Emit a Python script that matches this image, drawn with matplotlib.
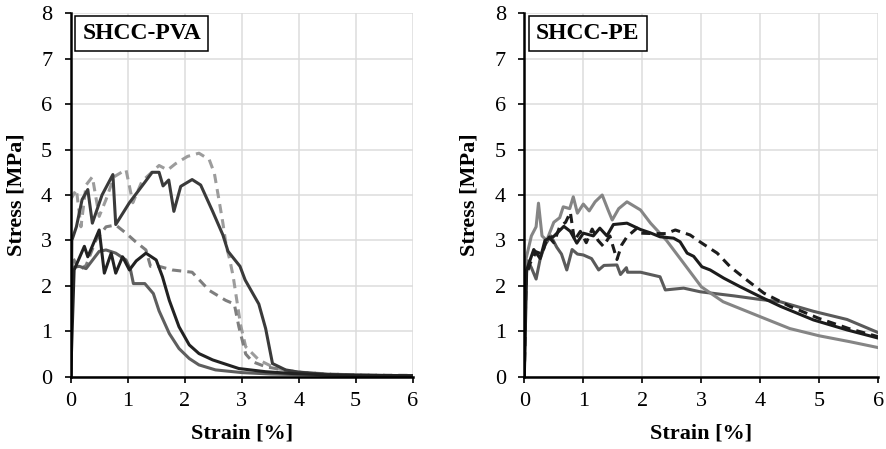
import matplotlib
matplotlib.use("Agg")
import matplotlib.pyplot as plt

plt.rcParams['font.family'] = ['Liberation Serif', 'DejaVu Serif']
plt.rcParams['font.size'] = 16

# ---- SHCC-PVA curves (strain %, stress MPa) ----
pva_a_x = [0, 0.02, 0.1, 0.2, 0.3, 0.38, 0.55, 0.74, 0.79, 1.03, 1.3, 1.43, 1.55, 1.62, 1.72, 1.81,
           1.93, 2.13, 2.28, 2.49, 2.67, 2.76, 2.97, 3.06, 3.3, 3.42, 3.54, 3.77, 4.0, 4.5, 5.0, 6.0]
pva_a_y = [0, 3.0, 3.3, 3.9, 4.12, 3.38, 4.0, 4.45, 3.35, 3.83, 4.28, 4.5, 4.5, 4.2, 4.33, 3.64,
           4.19, 4.34, 4.22, 3.64, 3.12, 2.76, 2.43, 2.13, 1.6, 1.06, 0.29, 0.15, 0.1, 0.05, 0.03, 0.02]

pva_b_x = [0, 0.1, 0.18, 0.27, 0.38, 0.5, 0.62, 0.76, 0.97, 1.09, 1.25, 1.55, 1.7, 1.84, 2.05, 2.25,
           2.43, 2.52, 2.6, 2.67, 2.73, 2.79, 2.85, 2.98, 3.07, 3.3, 3.6, 4.0, 4.5, 5.0, 6.0]
pva_b_y = [3.9, 4.12, 3.3, 4.22, 4.4, 3.53, 3.9, 4.4, 4.56, 3.83, 4.3, 4.65, 4.55, 4.69, 4.85, 4.92,
           4.78, 4.48, 3.9, 3.38, 2.87, 2.58, 2.21, 1.14, 0.66, 0.37, 0.18, 0.1, 0.06, 0.04, 0.03]

pva_c_x = [0, 0.03, 0.15, 0.27, 0.44, 0.62, 0.79, 0.97, 1.14, 1.32, 1.4, 1.55, 1.78, 2.13, 2.43,
           2.72, 2.87, 2.95, 3.07, 3.19, 3.42, 3.9, 4.5, 5.0, 6.0]
pva_c_y = [0, 2.64, 2.35, 2.45, 3.0, 3.3, 3.34, 3.16, 2.97, 2.79, 2.43, 2.43, 2.35, 2.3, 1.9,
           1.68, 1.6, 1.1, 0.5, 0.33, 0.22, 0.11, 0.06, 0.04, 0.02]

pva_d_x = [0, 0.06, 0.24, 0.3, 0.5, 0.59, 0.71, 0.79, 0.91, 1.03, 1.15, 1.32, 1.5, 1.61, 1.73,
           1.9, 2.08, 2.25, 2.49, 2.95, 3.42, 3.89, 4.5, 6.0]
pva_d_y = [0, 2.35, 2.87, 2.64, 3.23, 2.28, 2.72, 2.28, 2.64, 2.35, 2.55, 2.72, 2.57, 2.2, 1.68,
           1.1, 0.7, 0.51, 0.37, 0.18, 0.11, 0.07, 0.04, 0.02]

pva_e_x = [0, 0.02, 0.15, 0.27, 0.5, 0.62, 0.79, 0.97, 1.05, 1.1, 1.3, 1.45, 1.55, 1.73, 1.9,
           2.08, 2.25, 2.54, 3.01, 3.5, 4.5, 6.0]
pva_e_y = [0, 2.4, 2.43, 2.38, 2.76, 2.79, 2.72, 2.57, 2.35, 2.05, 2.05, 1.83, 1.45, 0.95, 0.62,
           0.4, 0.26, 0.15, 0.09, 0.06, 0.03, 0.02]

# ---- SHCC-PE curves ----
pe_a_x = [0, 0.03, 0.12, 0.2, 0.24, 0.3, 0.38, 0.5, 0.6, 0.66, 0.77, 0.83, 0.9, 1.0, 1.1, 1.2,
          1.32, 1.42, 1.49, 1.6, 1.74, 1.97, 2.14, 2.41, 2.7, 3.0, 3.37, 4.0, 4.5, 5.0, 5.52, 6.0]
pe_a_y = [0, 2.6, 3.1, 3.3, 3.82, 3.1, 3.0, 3.4, 3.5, 3.74, 3.7, 3.96, 3.6, 3.8, 3.65, 3.85,
          4.0, 3.67, 3.45, 3.7, 3.85, 3.67, 3.38, 3.0, 2.5, 1.98, 1.65, 1.32, 1.06, 0.9, 0.77, 0.64]

pe_b_x = [0, 0.02, 0.06, 0.12, 0.2, 0.27, 0.35, 0.45, 0.55, 0.63, 0.72, 0.81, 0.9, 1.0, 1.14,
          1.26, 1.35, 1.57, 1.63, 1.73, 1.75, 1.97, 2.3, 2.39, 2.7, 2.98, 3.55, 4.0, 4.34, 4.9,
          5.47, 6.0]
pe_b_y = [0, 2.1, 2.55, 2.4, 2.15, 2.6, 2.9, 3.1, 2.85, 2.7, 2.35, 2.8, 2.7, 2.68, 2.6,
          2.35, 2.45, 2.46, 2.25, 2.4, 2.3, 2.3, 2.2, 1.91, 1.95, 1.87, 1.78, 1.7, 1.65, 1.44,
          1.26, 0.97]

pe_c_x = [0, 0.04, 0.16, 0.27, 0.35, 0.5, 0.67, 0.78, 0.89, 1.0, 1.17, 1.28, 1.4, 1.51, 1.74,
          1.97, 2.13, 2.3, 2.53, 2.64, 2.76, 2.87, 3.01, 3.15, 3.38, 3.66, 4.0, 4.34, 4.9, 5.47, 6.0]
pe_c_y = [0, 2.35, 2.8, 2.6, 3.0, 3.09, 3.31, 3.2, 2.94, 3.16, 3.1, 3.27, 3.1, 3.35, 3.38,
          3.24, 3.17, 3.08, 3.05, 2.97, 2.72, 2.65, 2.42, 2.35, 2.17, 1.98, 1.76, 1.55, 1.25, 1.03, 0.85]

pe_d_x = [0, 0.03, 0.1, 0.2, 0.3, 0.4, 0.5, 0.6, 0.7, 0.78, 0.85, 0.95, 1.05, 1.15, 1.25, 1.34,
          1.45, 1.57, 1.65, 1.74, 1.91, 1.97, 2.2, 2.4, 2.56, 2.81, 3.01, 3.27, 3.49, 3.77, 4.06,
          4.5, 5.0, 5.5, 6.0]
pe_d_y = [0, 2.2, 2.5, 2.75, 2.7, 3.1, 2.95, 3.3, 3.4, 3.62, 3.0, 3.2, 2.95, 3.25, 3.0, 2.87,
          3.1, 2.58, 2.9, 3.08, 3.27, 3.16, 3.15, 3.15, 3.23, 3.12, 2.94, 2.72, 2.42, 2.13, 1.84,
          1.55, 1.28, 1.06, 0.88]

ticks_x = [0, 1, 2, 3, 4, 5, 6]
ticks_y = [0, 1, 2, 3, 4, 5, 6, 7, 8]

fig = plt.figure(figsize=(8.87, 4.49), dpi=100)
ax1 = fig.add_axes([0.0797, 0.161, 0.3856, 0.8094])
ax2 = fig.add_axes([0.5911, 0.161, 0.3991, 0.8094])

lw = 2.2
ax1.plot(pva_b_x, pva_b_y, color='#9c9c9c', lw=lw, dashes=(3, 2))
ax1.plot(pva_c_x, pva_c_y, color='#7e7e7e', lw=lw, dashes=(3, 2))
ax1.plot(pva_e_x, pva_e_y, color='#5e5e5e', lw=lw)
ax1.plot(pva_a_x, pva_a_y, color='#3a3a3a', lw=lw)
ax1.plot(pva_d_x, pva_d_y, color='#222222', lw=lw)

ax2.plot(pe_b_x, pe_b_y, color='#5a5a5a', lw=lw)
ax2.plot(pe_a_x, pe_a_y, color='#858585', lw=lw)
ax2.plot(pe_d_x, pe_d_y, color='#1c1c1c', lw=lw, dashes=(3, 2))
ax2.plot(pe_c_x, pe_c_y, color='#1c1c1c', lw=lw)

for ax, name in [(ax1, 'SHCC-PVA'), (ax2, 'SHCC-PE')]:
    ax.set_xlim(0, 6)
    ax.set_ylim(0, 8)
    ax.set_xticks(ticks_x)
    ax.set_yticks(ticks_y)
    ax.grid(True, color='#dcdcdc', lw=1.1)
    ax.set_axisbelow(True)
    for s in ['top', 'right']:
        ax.spines[s].set_visible(False)
    for s in ['left', 'bottom']:
        ax.spines[s].set_linewidth(1.8)
        ax.spines[s].set_zorder(5)
    ax.tick_params(axis='both', direction='out', length=4.3, width=1.2, labelsize=16)
    ax.tick_params(axis='x', pad=7)
    ax.tick_params(axis='y', pad=9)
    ax.set_xlabel('Strain [%]', fontweight='bold', fontsize=16)
    ax.set_ylabel('Stress [MPa]', fontweight='bold', fontsize=16)
    ax.annotate(name, xy=(0, 1), xycoords='axes fraction', xytext=(8.5, -6.8),
                textcoords='offset points', ha='left', va='top',
                fontsize=17, fontweight='bold', zorder=10,
                bbox=dict(boxstyle='square,pad=0.3', fc='white', ec='black', lw=1.1))

ax1.yaxis.set_label_coords(-0.13, 0.5)
ax2.yaxis.set_label_coords(-0.126, 0.5)
ax1.xaxis.set_label_coords(0.5, -0.128)
ax2.xaxis.set_label_coords(0.5, -0.128)

fig.savefig('out.png', dpi=100)
